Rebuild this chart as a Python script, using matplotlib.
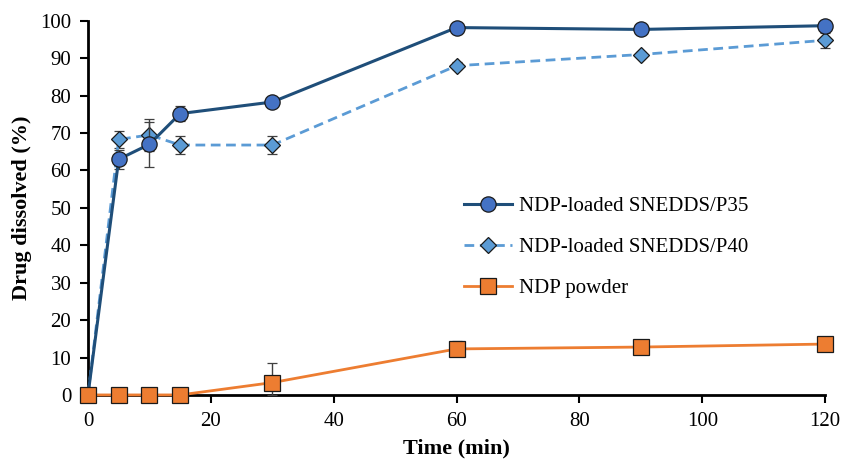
import matplotlib
matplotlib.use("Agg")
import matplotlib.pyplot as plt
from matplotlib.lines import Line2D

plt.rcParams['font.family'] = ['Liberation Serif', 'DejaVu Serif']

time = [0, 5, 10, 15, 30, 60, 90, 120]

p35 = [0, 63.0, 67.0, 75.2, 78.3, 98.2, 97.7, 98.7]
p35_err = [0, 2.5, 6.0, 2.0, 0.8, 0.8, 0.8, 0.8]

p40 = [0, 68.3, 69.5, 66.8, 66.8, 88.0, 91.0, 94.8]
p40_err = [0, 2.3, 4.3, 2.5, 2.5, 1.0, 0.8, 2.0]

powder = [0, 0, 0, 0, 3.3, 12.3, 12.8, 13.6]
powder_err_lo = [0, 0, 0, 0, 3.3, 2.0, 1.0, 1.0]
powder_err_hi = [0, 0, 0, 0, 5.3, 2.0, 1.0, 1.0]

labels = ['NDP-loaded SNEDDS/P35', 'NDP-loaded SNEDDS/P40', 'NDP powder']

fig = plt.figure(figsize=(8.42, 4.63), dpi=100)
ax = fig.add_axes([0.1045, 0.147, 0.8755, 0.808])

ekw = dict(ecolor='#404040', elinewidth=1.0, capsize=3.5, capthick=1.0)

st35 = dict(color='#1F4E79', lw=2.2, marker='o', ms=11, mfc='#4472C4', mec='#1a1a1a', mew=0.9)
st40 = dict(color='#5B9BD5', lw=2.0, ls=(0, (3.5, 2)), marker='D', ms=8, mfc='#5B9BD5', mec='#1a1a1a', mew=0.9)
stpw = dict(color='#ED7D31', lw=2.0, marker='s', ms=11, mfc='#ED7D31', mec='#1a1a1a', mew=0.9)

ax.errorbar(time, p35, yerr=p35_err, clip_on=False, zorder=5, **st35, **ekw)
ax.errorbar(time, p40, yerr=p40_err, clip_on=False, zorder=4, **st40, **ekw)
ax.errorbar(time, powder, yerr=[powder_err_lo, powder_err_hi], clip_on=False, zorder=6, **stpw, **ekw)

ax.set_xlim(0, 120)
ax.set_ylim(0, 100)
ax.set_xticks(range(0, 121, 20))
ax.set_yticks(range(0, 101, 10))
ax.spines['top'].set_visible(False)
ax.spines['right'].set_visible(False)
ax.spines['left'].set_linewidth(2)
ax.spines['bottom'].set_linewidth(2)
ax.tick_params(direction='out', width=1.5, length=6, labelsize=15, colors='black', pad=6)

ax.set_xlabel('Time (min)', fontsize=16, fontweight='bold', labelpad=6)
ax.set_ylabel('Drug dissolved (%)', fontsize=16, fontweight='bold', labelpad=6)

handles = [Line2D([], [], **st35), Line2D([], [], **st40), Line2D([], [], **stpw)]
leg = ax.legend(handles, labels, loc='upper left', bbox_to_anchor=(0.485, 0.58), frameon=False,
                fontsize=15, handlelength=2.3, labelspacing=1.02, handletextpad=0.35)

fig.savefig('out.png', dpi=100)
